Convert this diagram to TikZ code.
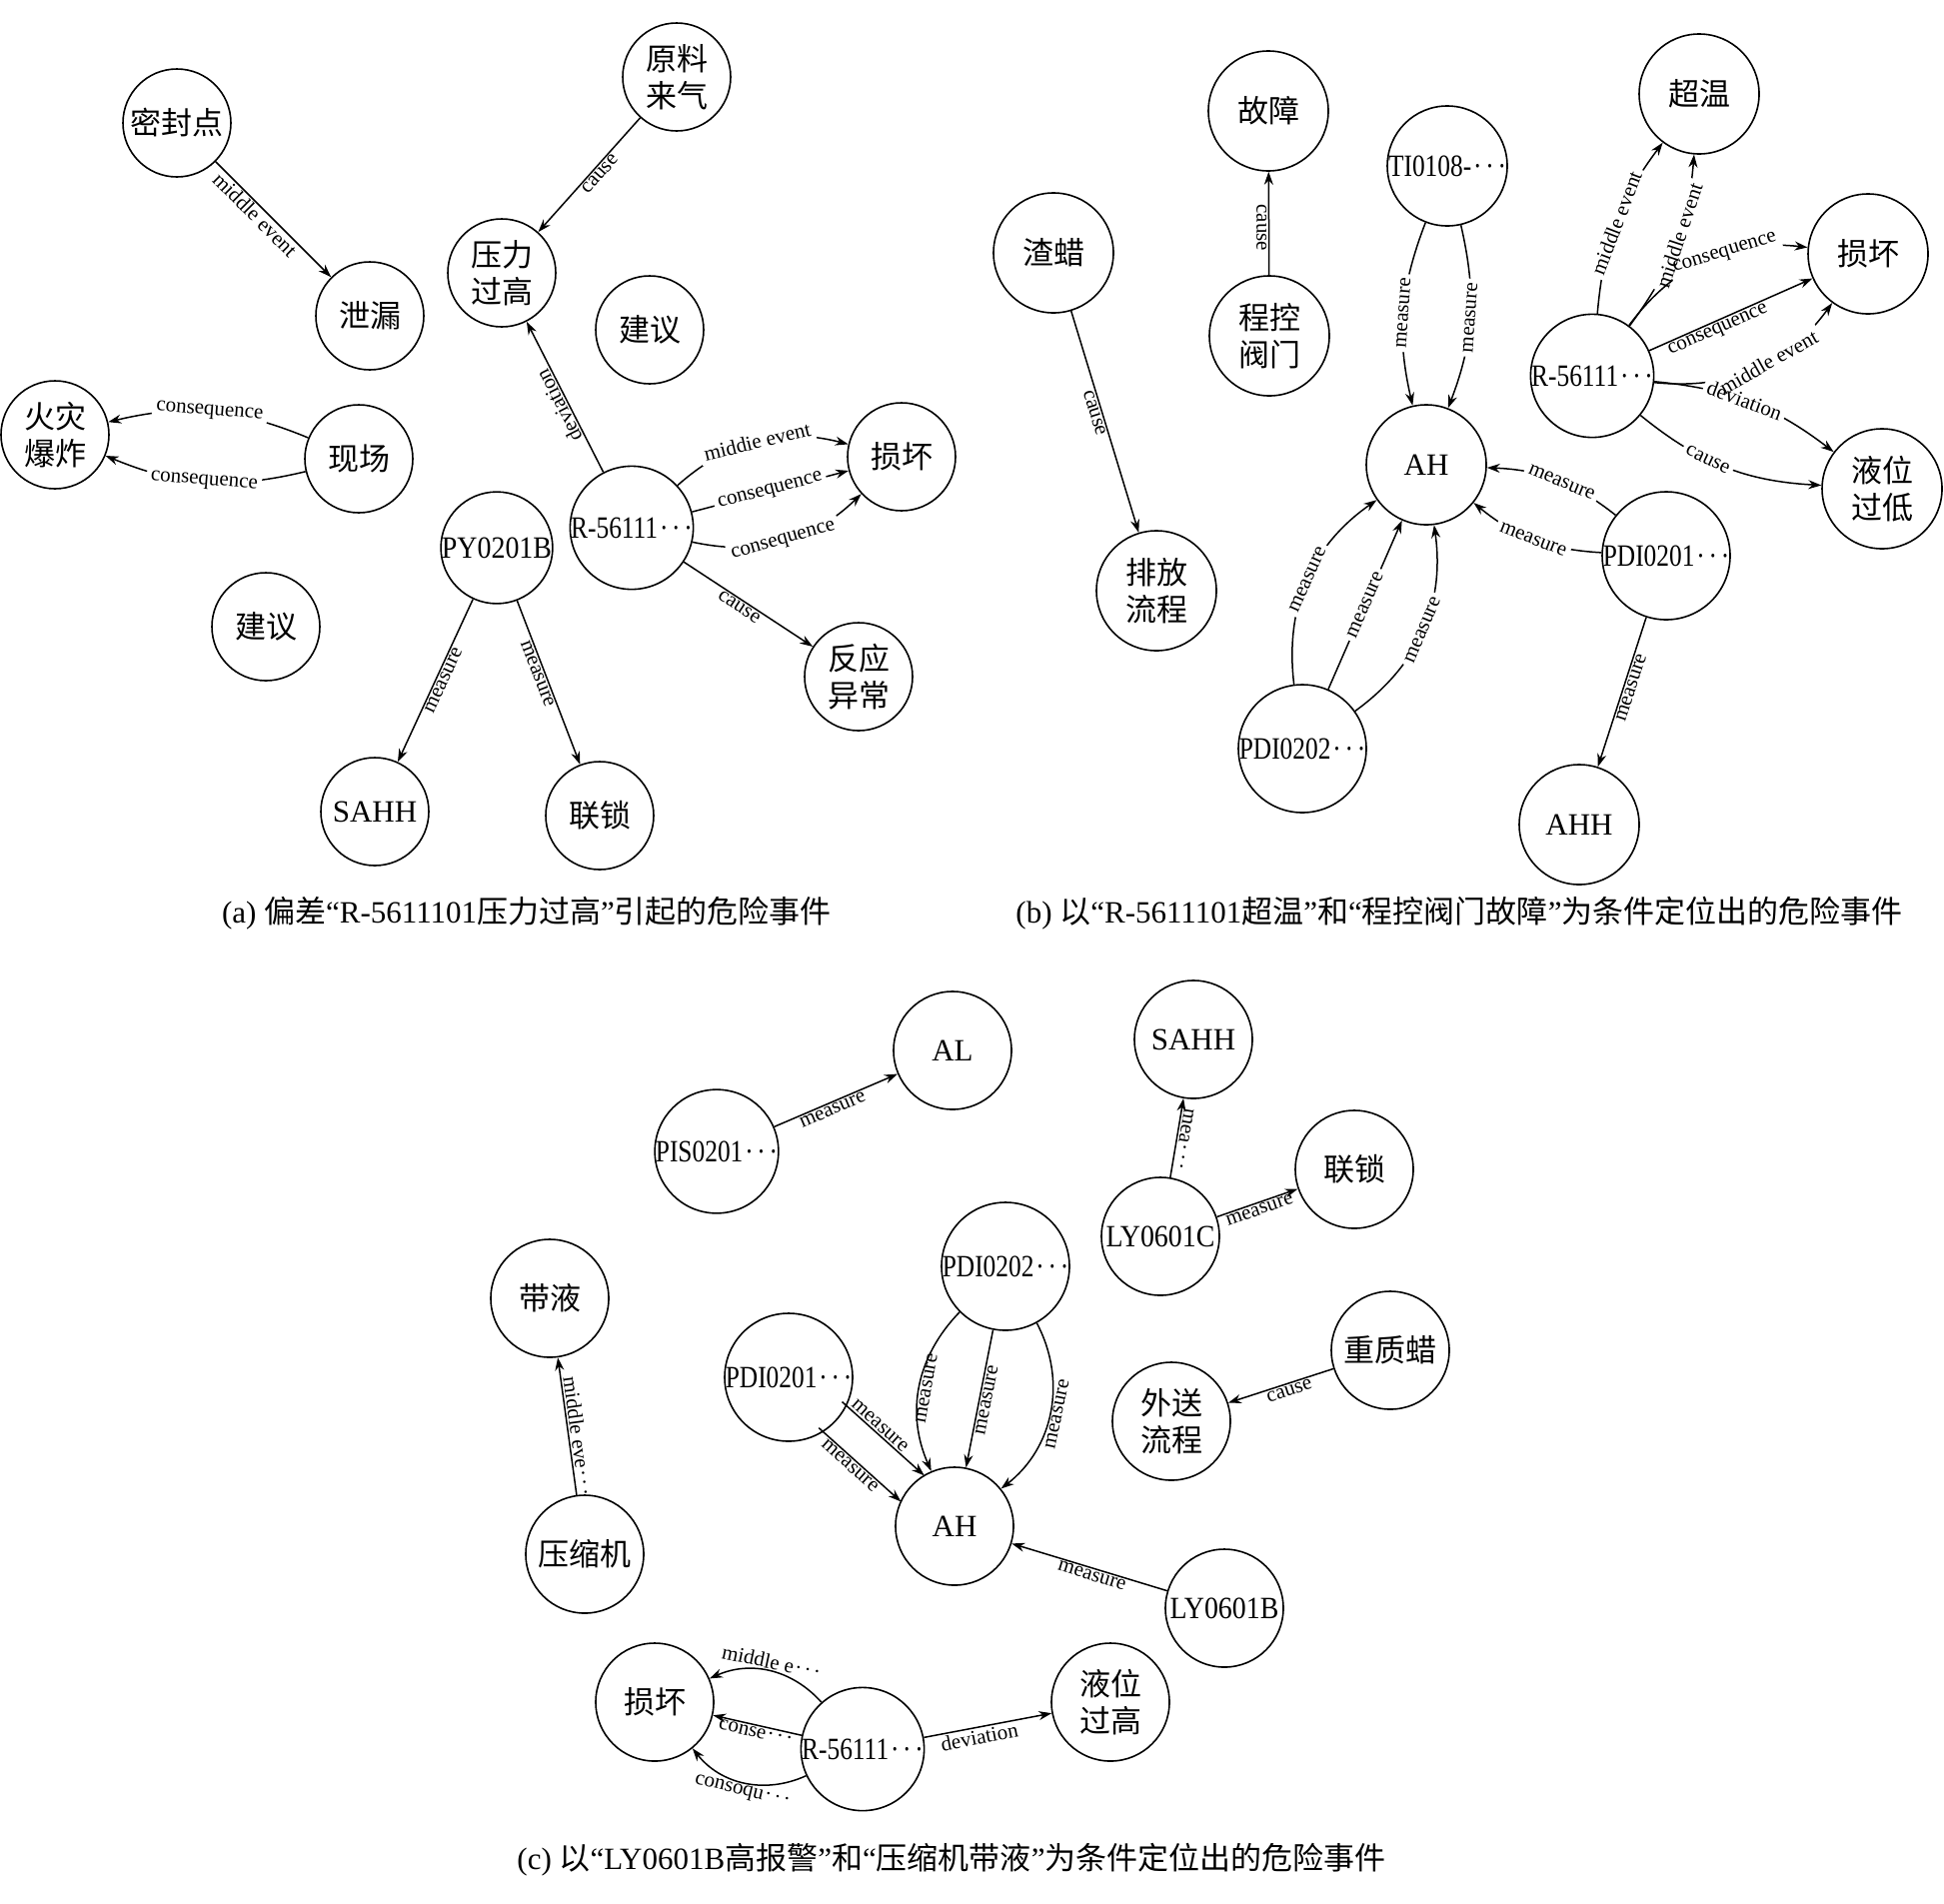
\documentclass[tikz,border=0pt]{standalone}
\usepackage{fontspec}
\setmainfont{Liberation Serif}
\newfontfamily\cjk{Noto Sans CJK SC}
\newfontfamily\condA[FakeStretch=0.82]{Liberation Serif}
\newfontfamily\condB[FakeStretch=0.9]{Liberation Serif}
\usetikzlibrary{arrows.meta,calc}
\newcommand\dts{\kern.06em·\kern.12em·\kern.12em·}
\tikzset{
  nd/.style={circle, draw, line width=1.6pt, inner sep=0pt, align=center, font=\fontsize{31}{37}\selectfont},
  fz/.style={font=\cjk\fontsize{31}{37}\selectfont},
  na/.style={nd, minimum size=108pt},
  nb/.style={nd, minimum size=120pt},
  nc/.style={nd, minimum size=118pt},
  ed/.style={line width=1.5pt, -{Stealth[length=13pt,width=9pt]}},
  er/.style={line width=1.5pt, {Stealth[length=13pt,width=9pt]}-},
  lb/.style={font=\fontsize{21}{23}\selectfont, sloped, allow upside down, inner sep=1.5pt},
  il/.style={lb, fill=white, inner sep=4pt},
  ilt/.style={lb, inner sep=4pt},
  captxt/.style={font=\fontsize{31}{37}\selectfont, inner sep=0pt},
}
\begin{document}
\begin{tikzpicture}[x=1pt,y=1pt]
\fill[white] (0,0) rectangle (1945,-1904);
\useasboundingbox (0,0) rectangle (1945,-1904);

% ---------------- panel (a)
\node[na,fz] (a1) at (177,-123) {密封点};
\node[na,fz] (a2) at (677,-77) {原料\\来气};
\node[na,fz] (a3) at (502,-273) {压力\\过高};
\node[na,fz] (a4) at (370,-316) {泄漏};
\node[na,fz] (a5) at (650,-330) {建议};
\node[na,fz] (a6) at (55,-435) {火灾\\爆炸};
\node[na,fz] (a7) at (359,-459) {现场};
\node[na] (a8) at (497,-548) {\condB PY0201B};
\node[na] (a9) at (632,-528) {\condA R-56111\dts};
\node[na,fz] (a10) at (902,-457) {损坏};
\node[na,fz] (a11) at (266,-627) {建议};
\node[na,fz] (a12) at (859,-677) {反应\\异常};
\node[na] (a13) at (375,-812) {SAHH};
\node[na,fz] (a14) at (600,-816) {联锁};

\draw[ed] (a1) -- node[lb, pos=.40, below] {middle event} (a4);
\draw[er] (a3) -- node[lb, pos=.55, below] {cause} (a2);
\draw[ed] (a9) -- node[lb, pos=.47, above] {deviation} (a3);
\draw[ed] (a9) to[bend left=28] node[il] {middie event} (a10);
\draw[ed] (a9) -- node[il] {consequence} (a10);
\draw[ed] (a9) to[bend right=28] node[il] {consequence} (a10);
\draw[ed] (a9) -- node[lb, pos=.46, below] {cause} (a12);
\draw[er] (a6) to[bend left=18] node[il] {consequence} (a7);
\draw[er] (a6) to[bend right=18] node[il] {consequence} (a7);
\draw[er] (a13) -- node[lb, pos=.52, below] {measure} (a8);
\draw[ed] (a8) -- node[lb, pos=.43, below] {measure} (a14);

\node[captxt] (capa) at (527,-914) {(a) {\cjk 偏差}“R-5611101{\cjk 压力过高}”{\cjk 引起的危险事件}};

% ---------------- panel (b)
\node[nb,fz] (b1) at (1269,-111) {故障};
\node[nb,fz] (b2) at (1700,-94) {超温};
\node[nb] (b3) at (1448,-166) {\condA TI0108-\dts};
\node[nb,fz] (b4) at (1054,-253) {渣蜡};
\node[nb,fz] (b5) at (1869,-254) {损坏};
\node[nb,fz] (b6) at (1270,-336) {程控\\阀门};
\node[nb] (b7) at (1593,-376) {\condA R-56111\dts};
\node[nb] (b8) at (1427,-465) {AH};
\node[nb,fz] (b9) at (1883,-489) {液位\\过低};
\node[nb] (b10) at (1667,-556) {\condA PDI0201\dts};
\node[nb,fz] (b11) at (1157,-591) {排放\\流程};
\node[nb] (b12) at (1303,-749) {\condA PDI0202\dts};
\node[nb] (b13) at (1580,-825) {AHH};

\draw[er] (b1) -- node[lb, pos=.54, below] {cause} (b6);
\draw[er] (b8) to[bend left=17] node[il] {measure} (b3);
\draw[er] (b8) to[bend right=17] node[il] {measure} (b3);
\draw[er] (b8) to[bend left=18] node[il, pos=.55] {measure} (b10);
\draw[er] (b8) to[bend right=18] node[il] {measure} (b10);
\draw[ed] (b12) to[bend left=31] node[il] {measure} (b8);
\draw[ed] (b12) -- node[il] {measure} (b8);
\draw[ed] (b12) to[bend right=31] node[il] {measure} (b8);
\draw[er] (b13) -- node[lb, pos=.545, below] {measure} (b10);
\draw[ed] (b4) -- node[lb, pos=.45, below] {cause} (b11);
% R-56111 fan: white gaps first, texts on top
\draw[ed] (b7) to[bend left=16] node[il, pos=.5] {\phantom{middle event}} (b2);
\draw[ed] (b7) to[bend right=16] node[il, pos=.56] {\phantom{middle event}} (b2);
\draw[ed] (b7) to[bend left=30] node[il, pos=.6] {\phantom{consequence}} (b5);
\draw[ed] (b7) -- node[lb, pos=.4, below] {consequence} (b5);
\draw[ed] (b7) to[bend right=30] node[il, pos=.58] {\phantom{middle event}} (b5);
\draw[ed] (b7) to[bend left=16] node[il, pos=.47] {\phantom{deviation}} (b9);
\draw[ed] (b7) to[bend right=18] node[il, pos=.4] {\phantom{cause}} (b9);
\path (b7) to[bend left=16] node[ilt, pos=.5] {middle event} (b2);
\path (b7) to[bend right=16] node[ilt, pos=.56] {middle event} (b2);
\path (b7) to[bend left=30] node[ilt, pos=.6] {consequence} (b5);
\path (b7) to[bend right=30] node[ilt, pos=.58] {middle event} (b5);
\path (b7) to[bend left=16] node[ilt, pos=.47] {deviation} (b9);
\path (b7) to[bend right=18] node[ilt, pos=.4] {cause} (b9);

\node[captxt] (capb) at (1460,-914) {(b) {\cjk 以}“R-5611101{\cjk 超温}”{\cjk 和}“{\cjk 程控阀门故障}”{\cjk 为条件定位出的危险事件}};

% ---------------- panel (c)
\node[nc] (c1) at (953,-1051) {AL};
\node[nc] (c2) at (1194,-1040) {SAHH};
\node[nc] (c3) at (717,-1152) {\condA PIS0201\dts};
\node[nc,fz] (c4) at (1355,-1170) {联锁};
\node[nc] (c5) at (1161,-1237) {\condB LY0601C};
\node[nc] (c6) at (1006,-1267) {\condA PDI0202\dts};
\node[nc,fz] (c7) at (550,-1299) {带液};
\node[nc,fz] (c8) at (1391,-1351) {重质蜡};
\node[nc] (c9) at (789,-1378) {\condA PDI0201\dts};
\node[nc,fz] (c10) at (1172,-1422) {外送\\流程};
\node[nc] (c11) at (955,-1527) {AH};
\node[nc,fz] (c12) at (585,-1555) {压缩机};
\node[nc] (c13) at (1225,-1609) {\condB LY0601B};
\node[nc,fz] (c14) at (1111,-1703) {液位\\过高};
\node[nc,fz] (c15) at (655,-1703) {损坏};
\node[nc] (c16) at (863,-1750) {\condA R-56111\dts};

\draw[ed] (c3) -- node[lb, pos=.45, below] {measure} (c1);
\draw[er] (c2) -- node[lb, pos=.5, above] {mea\dts} (c5);
\draw[ed] (c5) -- node[lb, pos=.5, below] {measure} (c4);
\draw[er] (c7) -- node[lb, pos=.58, above] {middle eve\dts} (c12);
\draw[er] (c10) -- node[lb, pos=.56, below] {cause} (c8);
\draw[ed, shorten <=56.3pt, shorten >=56.3pt] ($(c9)!17.5pt!90:(c11)$) -- node[lb, pos=.45, above] {measure} ($(c11)!17.5pt!-90:(c9)$);
\draw[ed, shorten <=56.3pt, shorten >=56.3pt] ($(c9)!17.5pt!-90:(c11)$) -- node[lb, pos=.47, below] {measure} ($(c11)!17.5pt!90:(c9)$);
\draw[er] (c11) to[bend left=34] node[lb, below] {measure} (c6);
\draw[er] (c11) -- node[lb, below] {measure} (c6);
\draw[er] (c11) to[bend right=40] node[lb, below] {measure} (c6);
\draw[er] (c11) -- node[lb, pos=.53, below] {measure} (c13);
\draw[er] (c15) to[bend left=36] node[lb, above] {middle e\dts} (c16);
\draw[er] (c15) -- node[lb, below] {conse\dts} (c16);
\draw[er] (c15) to[bend right=38] node[lb, below] {consoqu\dts} (c16);
\draw[ed] (c16) -- node[lb, pos=.42, below] {deviation} (c14);

\node[captxt] (capc) at (952,-1861) {(c) {\cjk 以}“LY0601B{\cjk 高报警}”{\cjk 和}“{\cjk 压缩机带液}”{\cjk 为条件定位出的危险事件}};
\end{tikzpicture}
\end{document}
